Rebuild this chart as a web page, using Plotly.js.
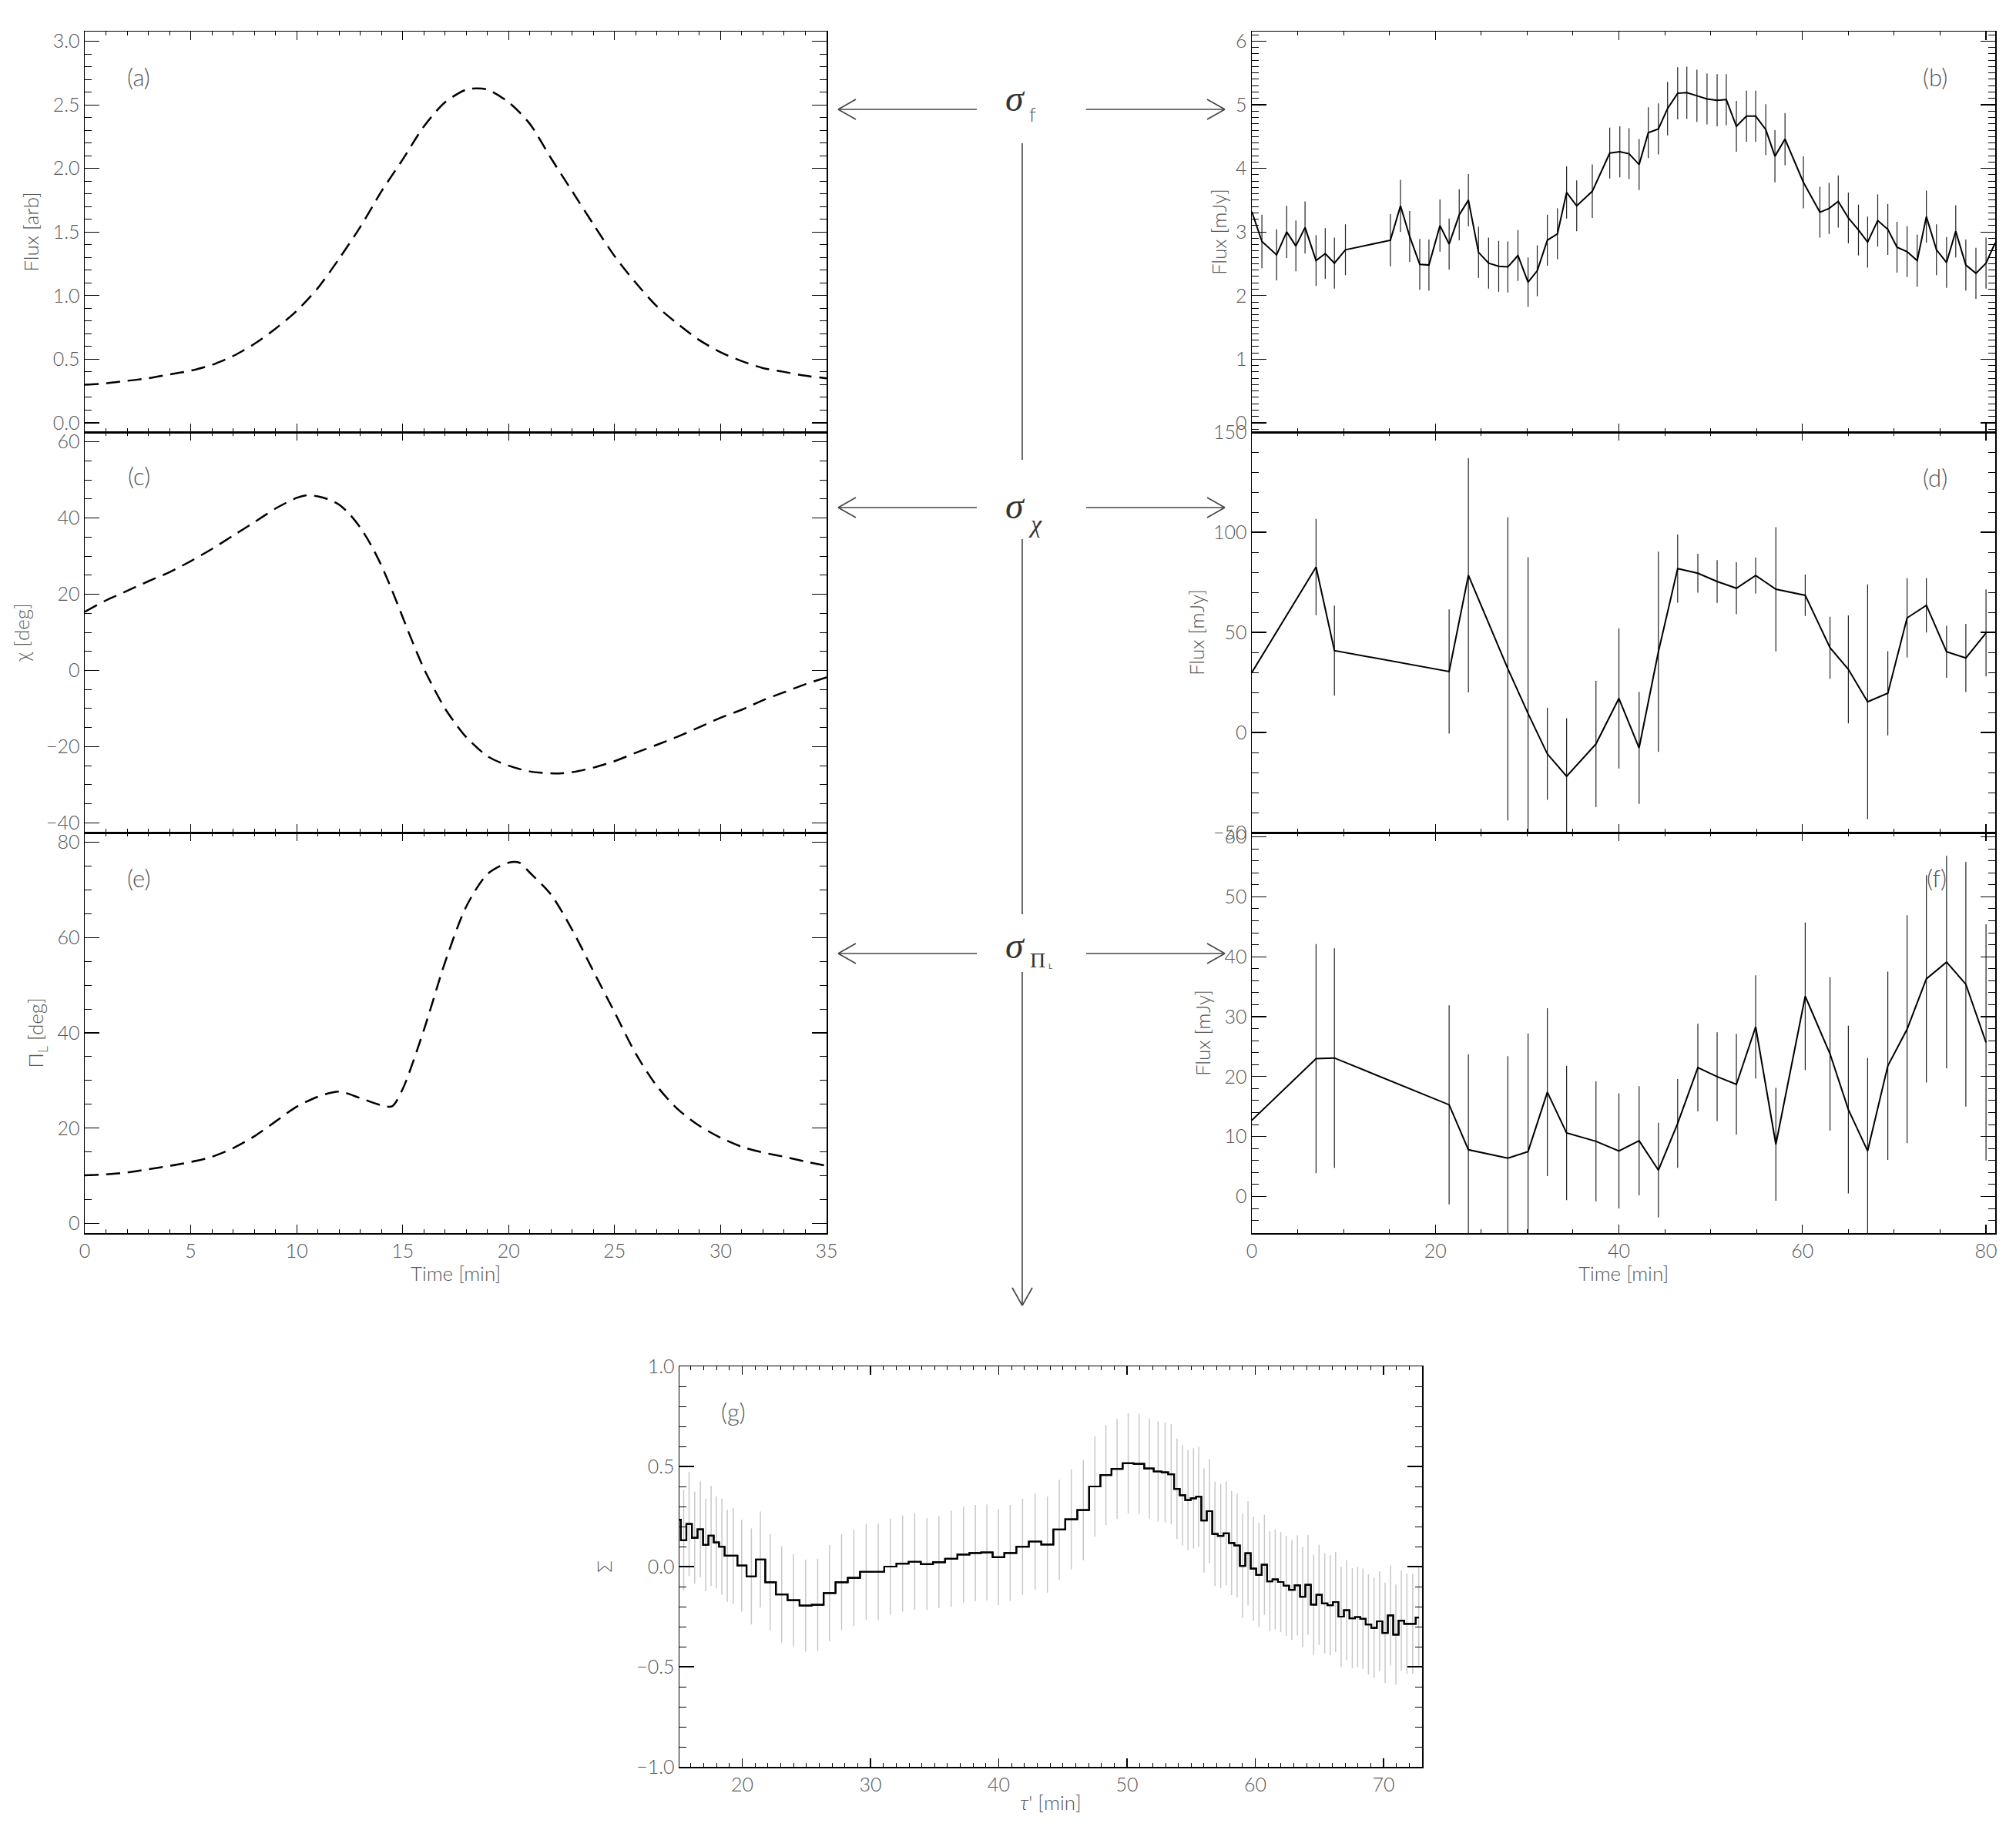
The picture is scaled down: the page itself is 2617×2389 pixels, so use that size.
<!DOCTYPE html>
<html>
<head>
<meta charset="utf-8">
<script src="https://cdn.plot.ly/plotly-3.0.1.min.js"></script>
<style>html,body{margin:0;padding:0;background:#fff}</style>
</head>
<body>
<div id="chart" style="width:2617px;height:2389px"></div>
<script>
// (a) model flux
const timeA = [0,1,2,3,4,5,6,7,8,9,10,11,12,13,14,15,16,17,18,18.5,19,20,21,22,23,24,25,26,27,28,29,30,31,32,33,34,35];
const fluxA = [0.30,0.31,0.33,0.35,0.38,0.41,0.455,0.525,0.62,0.74,0.88,1.06,1.29,1.54,1.82,2.07,2.33,2.52,2.62,2.63,2.62,2.52,2.35,2.08,1.82,1.56,1.31,1.10,0.915,0.775,0.65,0.555,0.485,0.43,0.40,0.37,0.35];

// (c) model polarisation angle
const timeC = [0,1,2,3,4,5,6,7,8,9,10,10.5,11,11.5,12,12.5,13,13.5,14,14.5,15,15.5,16,16.5,17,17.5,18,19,20,21,22,22.5,23,24,25,26,27,28,29,30,31,32,33,34,35];
const chiC = [15.4,18.4,20.9,23.4,25.8,28.7,31.9,35.4,38.9,42.5,45.3,46.0,45.7,44.9,43.5,41.0,37.5,33.0,27.5,21.0,14.0,7.0,0.5,-5.0,-10.0,-14.0,-17.5,-22.5,-25.0,-26.5,-27.0,-27.0,-26.7,-25.5,-23.8,-21.6,-19.5,-17.3,-14.9,-12.4,-10.3,-7.8,-5.7,-3.6,-1.8];

// (e) model polarisation degree
const timeE = [0,1,2,3,4,5,6,7,8,9,10,11,12,13,14,14.5,15,16,17,18,19,20,20.5,21,22,23,24,25,26,27,28,29,30,31,32,33,34,35];
const piE = [10.1,10.3,10.7,11.4,12.1,12.9,14.0,15.8,18.3,21.4,24.5,26.6,27.7,26.3,24.8,24.6,28.2,40.6,54.8,66.5,73.3,75.7,75.7,73.6,69.0,61.6,52.9,44.3,35.6,28.8,23.9,20.5,18.0,16.1,14.9,14.0,13.0,12.1];

// (b) observed flux
const timeB = [0,1.1,2.7,3.8,4.8,5.8,7.0,8.0,9.0,10.2,15.1,16.2,17.2,18.3,19.3,20.5,21.5,22.6,23.6,24.7,25.8,26.9,27.9,29.0,30.1,31.1,32.2,33.3,34.3,35.4,37.1,39.0,40.1,41.1,42.2,43.2,44.3,45.3,46.4,47.4,48.5,49.6,50.7,51.7,52.8,53.9,54.9,56.0,57.0,58.1,60.1,61.9,62.9,63.9,65.0,66.1,67.1,68.2,69.3,70.3,71.4,72.5,73.5,74.6,75.7,76.7,77.8,78.9,80.0,81.0];
const fluxB = [3.32,2.85,2.64,3.00,2.78,3.07,2.55,2.66,2.51,2.72,2.87,3.41,2.93,2.49,2.48,3.10,2.81,3.27,3.50,2.68,2.51,2.46,2.45,2.63,2.21,2.39,2.87,2.97,3.62,3.41,3.64,4.24,4.26,4.23,4.06,4.56,4.62,4.94,5.18,5.19,5.14,5.09,5.07,5.08,4.66,4.82,4.82,4.61,4.19,4.46,3.78,3.31,3.37,3.48,3.22,3.03,2.84,3.18,3.04,2.76,2.69,2.55,3.24,2.72,2.52,3.01,2.48,2.35,2.51,2.83];
const errB = [0,0.42,0.40,0.41,0.40,0.41,0.40,0.40,0.40,0.40,0.41,0.41,0.40,0.40,0.40,0.41,0.40,0.40,0.41,0.40,0.40,0.40,0.40,0.40,0.39,0.40,0.40,0.40,0.41,0.40,0.42,0.40,0.40,0.40,0.40,0.40,0.40,0.42,0.41,0.41,0.41,0.40,0.41,0.40,0.40,0.40,0.40,0.40,0.41,0.41,0.41,0.40,0.40,0.41,0.40,0.40,0.40,0.41,0.40,0.40,0.40,0.41,0.41,0.40,0.40,0.41,0.40,0.40,0.40,0];

// (d) and (f) share the same sampling
const timeDF = [0,7.0,9.0,21.5,23.6,27.9,30.1,32.2,34.3,37.5,40.0,42.2,44.3,46.4,48.6,50.7,52.8,54.9,57.1,60.3,63.0,65.0,67.1,69.3,71.4,73.5,75.7,77.8,80.0];
const fluxD = [29.9,82.6,40.9,30.4,78.5,31.8,9.5,-10.7,-21.9,-5.7,17.0,-7.7,40.3,81.8,79.5,75.4,72.0,78.4,71.5,68.5,42.3,31.5,15.3,19.6,57.2,63.5,40.3,37.2,49.7];
const errD = [0,24,22.5,31,58.5,75.7,78,23,29,31.5,35,28,50,17,9.7,10.7,13,9,31,10.3,15.5,27,58.6,21,19.8,13.6,13,17,21.7];
const fluxF = [12.7,23.0,23.1,15.3,7.8,6.4,7.5,17.4,10.6,9.2,7.6,9.3,4.4,12.2,21.5,20.0,18.7,28.3,8.7,33.4,23.8,14.5,7.6,21.8,27.9,36.3,39.1,35.4,25.7];
const errF = [0,19.1,18.3,16.6,15.9,17,19.7,14,11.2,10,9.6,9.1,7.9,7.4,7.3,7.4,8.4,8.6,9.4,12.3,12.8,14,15.5,15.7,19,17.3,17.7,20.4,19.7];

// (g) binned statistic
const tauG = [15.00,15.43,15.85,16.29,16.73,17.15,17.57,17.97,18.41,18.83,19.29,19.95,20.71,21.41,22.17,23.07,23.99,24.94,25.88,26.80,27.74,28.70,29.66,30.60,31.54,32.50,33.44,34.40,35.33,36.29,37.25,38.17,39.07,39.97,40.89,41.85,42.83,43.79,44.71,45.65,46.59,47.49,48.35,49.22,50.09,50.94,51.74,52.42,52.97,53.44,53.89,54.32,54.75,55.18,55.58,56.00,56.43,56.85,57.30,57.73,58.15,58.58,59.01,59.43,59.85,60.28,60.71,61.13,61.55,61.98,62.41,62.85,63.28,63.69,64.11,64.55,64.97,65.41,65.84,66.26,66.69,67.12,67.56,67.98,68.39,68.82,69.26,69.69,70.12,70.54,70.96,71.38,71.82,72.27,72.74];
const sigmaG = [0.234,0.131,0.213,0.144,0.186,0.108,0.154,0.121,0.099,0.054,0.054,0.005,-0.049,0.035,-0.078,-0.139,-0.168,-0.195,-0.191,-0.132,-0.078,-0.056,-0.026,-0.026,0.000,0.015,0.024,0.012,0.022,0.039,0.060,0.068,0.071,0.047,0.068,0.099,0.125,0.110,0.185,0.236,0.282,0.400,0.457,0.488,0.516,0.513,0.490,0.475,0.471,0.461,0.388,0.356,0.332,0.341,0.349,0.230,0.277,0.163,0.153,0.166,0.118,0.105,0.003,0.067,-0.010,-0.042,0.009,-0.074,-0.064,-0.077,-0.096,-0.116,-0.094,-0.151,-0.091,-0.190,-0.141,-0.184,-0.193,-0.177,-0.250,-0.218,-0.258,-0.252,-0.261,-0.289,-0.306,-0.273,-0.331,-0.244,-0.340,-0.270,-0.286,-0.286,-0.254];
const errG = [0.25,0.25,0.26,0.23,0.24,0.23,0.25,0.23,0.24,0.23,0.24,0.23,0.24,0.24,0.24,0.24,0.23,0.23,0.23,0.24,0.24,0.24,0.24,0.24,0.24,0.24,0.24,0.23,0.23,0.24,0.24,0.24,0.24,0.24,0.24,0.24,0.24,0.24,0.25,0.25,0.25,0.25,0.25,0.25,0.25,0.25,0.25,0.25,0.25,0.25,0.25,0.25,0.25,0.25,0.25,0.26,0.26,0.26,0.26,0.26,0.26,0.26,0.26,0.26,0.26,0.26,0.25,0.25,0.25,0.25,0.25,0.25,0.25,0.25,0.25,0.25,0.25,0.25,0.25,0.25,0.25,0.25,0.25,0.25,0.25,0.25,0.25,0.25,0.25,0.25,0.25,0.25,0.25,0.25,0.25];

const panelLabels = ['(a)', '(c)', '(e)', '(b)', '(d)', '(f)', '(g)'];

const W = 2617, H = 2389;
const fx = p => p / W;
const fy = p => 1 - p / H;

const SANS = 'Lato, "DejaVu Sans", sans-serif';
const SERIF = '"Liberation Serif", "DejaVu Serif", serif';
const GREY = '#555';
const tickFont = { family: SANS, size: 25, color: GREY, weight: 300 };

function xAx(px0, px1, range, dtick, minorDtick, anchor, labels, title) {
  const ax = {
    domain: [fx(px0), fx(px1)], range, anchor,
    tickmode: 'linear', tick0: 0, dtick,
    ticks: 'inside', ticklen: 11, tickwidth: 1.2, tickcolor: '#000',
    minor: { ticks: 'inside', ticklen: 5, tickwidth: 1, tickcolor: '#000', tick0: 0, dtick: minorDtick },
    showline: true, linecolor: '#000', linewidth: 1.5, mirror: 'allticks',
    showgrid: false, zeroline: false,
    showticklabels: labels, tickfont: tickFont
  };
  if (title) ax.title = { text: title, font: { family: SANS, size: 26, color: GREY, weight: 300 }, standoff: 2 };
  return ax;
}

function yAx(py0, py1, range, dtick, minorDtick, anchor, title, standoff, fmt) {
  return {
    domain: [fy(py1), fy(py0)], range, anchor,
    tickmode: 'linear', tick0: 0, dtick, tickformat: fmt || '',
    ticks: 'inside', ticklen: 19, tickwidth: 1.2, tickcolor: '#000',
    minor: { ticks: 'inside', ticklen: 9, tickwidth: 1, tickcolor: '#000', tick0: 0, dtick: minorDtick },
    showline: true, linecolor: '#000', linewidth: 1.5, mirror: 'allticks',
    showgrid: false, zeroline: false,
    tickfont: tickFont,
    title: { text: title, font: { family: SANS, size: 26, color: GREY, weight: 300 }, standoff }
  };
}

const dashed = { color: '#000', width: 2.5, dash: '18px,10px', shape: 'spline', smoothing: 0.8 };
const solid = { color: '#000', width: 2 };
const bars = arr => ({ type: 'data', array: arr, visible: true, width: 0, thickness: 1.2, color: '#222' });

const data = [
  { x: timeA, y: fluxA, xaxis: 'x', yaxis: 'y', mode: 'lines', line: dashed },
  { x: timeC, y: chiC, xaxis: 'x2', yaxis: 'y2', mode: 'lines', line: dashed },
  { x: timeE, y: piE, xaxis: 'x3', yaxis: 'y3', mode: 'lines', line: dashed },
  { x: timeB, y: fluxB, xaxis: 'x4', yaxis: 'y4', mode: 'lines', line: solid, error_y: bars(errB) },
  { x: timeDF, y: fluxD, xaxis: 'x5', yaxis: 'y5', mode: 'lines', line: solid, error_y: bars(errD) },
  { x: timeDF, y: fluxF, xaxis: 'x6', yaxis: 'y6', mode: 'lines', line: solid, error_y: bars(errF) },
  { x: tauG, y: sigmaG, xaxis: 'x7', yaxis: 'y7', mode: 'lines', line: { color: '#000', width: 2.2, shape: 'hvh' },
    error_y: { type: 'data', array: errG, visible: true, width: 0, thickness: 1.5, color: '#c8c8c8' } }
];
// draw the step line again so it sits above the grey error bars of (g)
data.push({ x: tauG, y: sigmaG, xaxis: 'x7', yaxis: 'y7', mode: 'lines', line: { color: '#000', width: 2.2, shape: 'hvh' }, hoverinfo: 'skip' });

// pixel frames of the panels
const L0 = 110, L1 = 1073, R0 = 1625, R1 = 2590;
const rows = [41, 561, 1081, 1601];

const layout = {
  width: W, height: H,
  margin: { l: 0, r: 0, t: 0, b: 0 },
  paper_bgcolor: '#fff', plot_bgcolor: 'rgba(0,0,0,0)',
  showlegend: false,
  xaxis: xAx(L0, L1, [0, 35], 5, 1, 'y', false),
  yaxis: yAx(rows[0], rows[1], [-0.073, 3.076], 0.5, 0.1, 'x', 'Flux [arb]', 10, '.1f'),
  xaxis2: xAx(L0, L1, [0, 35], 5, 1, 'y2', false),
  yaxis2: yAx(rows[1], rows[2], [-42.55, 62.57], 20, 5, 'x2', 'χ [deg]', 14),
  xaxis3: xAx(L0, L1, [0, 35], 5, 1, 'y3', true, 'Time [min]'),
  yaxis3: yAx(rows[2], rows[3], [-2, 82], 20, 5, 'x3', 'Π<sub>L</sub> [deg]', 10),
  xaxis4: xAx(R0, R1, [0, 81], 20, 5, 'y4', false),
  yaxis4: yAx(rows[0], rows[1], [-0.146, 6.15], 1, 0.1, 'x4', 'Flux [mJy]', 4),
  xaxis5: xAx(R0, R1, [0, 81], 20, 5, 'y5', false),
  yaxis5: yAx(rows[1], rows[2], [-50, 150], 50, 10, 'x5', 'Flux [mJy]', 4),
  xaxis6: xAx(R0, R1, [0, 81], 20, 5, 'y6', true, 'Time [min]'),
  yaxis6: yAx(rows[2], rows[3], [-6.1, 60.7], 10, 2, 'x6', 'Flux [mJy]', 10),
  xaxis7: xAx(882, 1846, [15.1, 73.0], 10, 1, 'y7', true, '<i>τ</i>\' [min]'),
  yaxis7: yAx(1774, 2294, [-1, 1], 0.5, 0.1, 'x7', 'Σ', 24, '.1f'),
  shapes: [],
  annotations: []
};

function note(x, y, text, font) {
  layout.annotations.push({ xref: 'paper', yref: 'paper', x: fx(x), y: fy(y), xanchor: 'center', yanchor: 'middle',
    text, showarrow: false, font });
}

// panel letters
const labelPos = [[180, 100], [180, 618], [180, 1140], [2512, 100], [2512, 620], [2514, 1140], [952, 1833]];
panelLabels.forEach((t, i) => note(labelPos[i][0], labelPos[i][1], t, { family: SANS, size: 31, color: GREY, weight: 300 }));

// central schematic: sigma labels and open arrows
const ink = '#444';
function seg(x0, y0, x1, y1) {
  return { type: 'line', xref: 'paper', yref: 'paper', x0: fx(x0), y0: fy(y0), x1: fx(x1), y1: fy(y1), line: { color: ink, width: 1.6 } };
}
[142, 659, 1238].forEach(y => {
  layout.shapes.push(seg(1088, y, 1268, y), seg(1088, y, 1111, y - 13), seg(1088, y, 1111, y + 13));
  layout.shapes.push(seg(1410, y, 1590, y), seg(1590, y, 1567, y - 13), seg(1590, y, 1567, y + 13));
});
layout.shapes.push(seg(1327, 186, 1327, 597), seg(1327, 700, 1327, 1187), seg(1327, 1262, 1327, 1695));
layout.shapes.push(seg(1327, 1695, 1314, 1672), seg(1327, 1695, 1340, 1672));

const sigFont = { family: SERIF, size: 48, color: '#333' };
note(1318, 128, '<i>σ</i>', sigFont);
note(1318, 656, '<i>σ</i>', sigFont);
note(1318, 1227, '<i>σ</i>', sigFont);
note(1340, 148, 'f', { family: SANS, size: 26, color: GREY, weight: 300 });
note(1344, 680, '<i>χ</i>', { family: SERIF, size: 32, color: '#333' });
note(1347, 1246, 'Π', { family: SERIF, size: 28, color: '#333' });
note(1363, 1254, 'L', { family: SANS, size: 10, color: GREY });

Plotly.newPlot('chart', data, layout, { staticPlot: true });
</script>
</body>
</html>
